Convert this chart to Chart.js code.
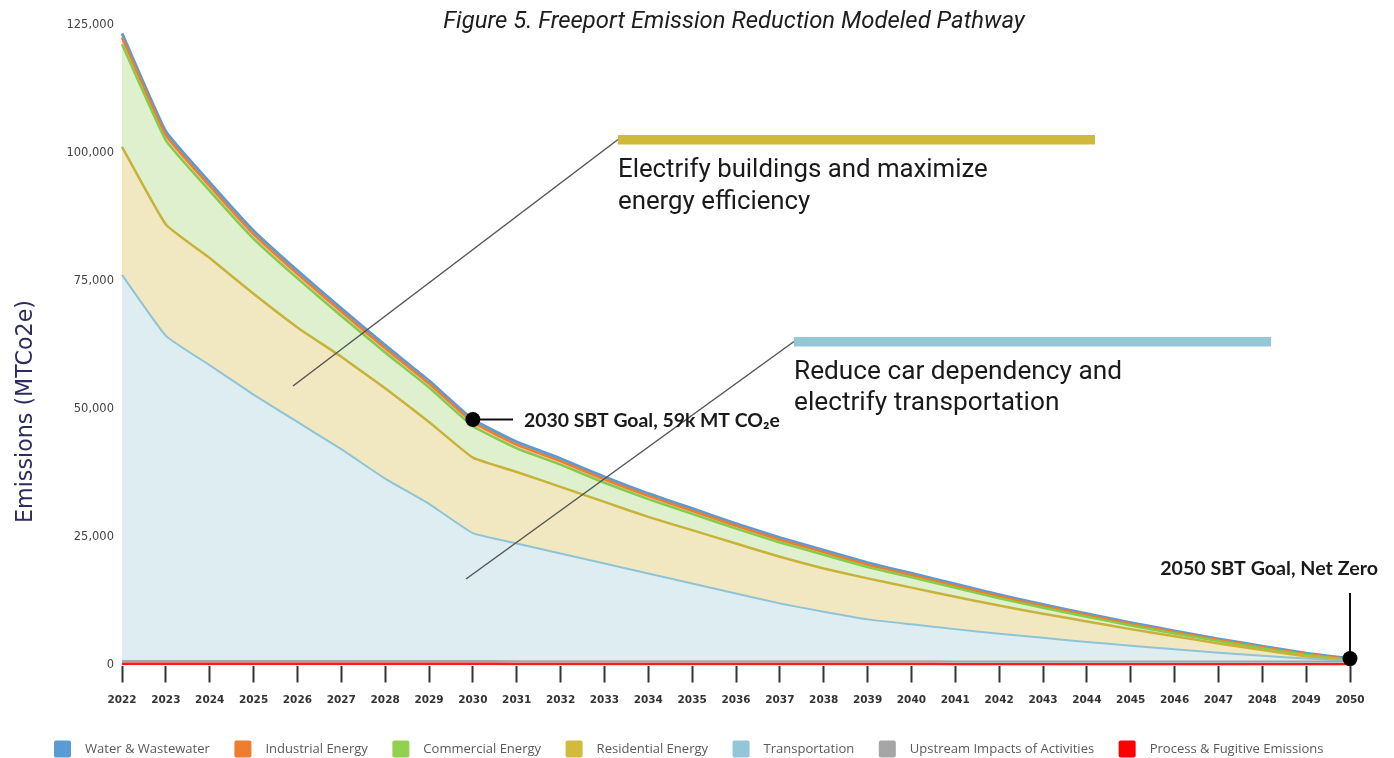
<!DOCTYPE html>
<html>
<head>
<meta charset="utf-8">
<script src="https://cdn.jsdelivr.net/npm/chart.js@4.4.1/dist/chart.umd.min.js"></script>
<style>
  html, body { margin: 0; padding: 0; background: #ffffff; }
  #wrap { position: relative; width: 1394px; height: 758px; }
</style>
</head>
<body>
<div id="wrap"><canvas id="c"></canvas></div>
<script>
// ---------- DATA (MTCO2e by sector, per year) ----------
const years = ['2022','2023','2024','2025','2026','2027','2028','2029','2030','2031','2032','2033','2034','2035','2036','2037','2038','2039','2040','2041','2042','2043','2044','2045','2046','2047','2048','2049','2050'];
const yTickValues = [0, 25000, 50000, 75000, 100000, 125000];

const processFugitive = [350,350,350,350,350,350,350,350,350,300,300,300,300,300,300,300,300,300,300,250,250,250,250,250,250,250,250,250,250];
const upstreamImpacts = [550,550,550,550,550,550,550,550,550,550,550,550,550,550,550,550,550,550,550,550,550,550,550,550,550,550,550,550,550];
const transportation  = [75330,63440,57700,51970,46640,41310,35580,30660,24920,22960,21020,19070,17120,15170,13220,11270,9640,8150,7180,6300,5400,4600,3800,3050,2350,1700,1100,550,50];
const residentialEnergy = [25000,21730,20910,19670,18440,18040,17620,15980,14750,13960,12980,12000,11030,10390,9740,9090,8450,8000,7170,6300,5500,4700,4000,3250,2550,1800,1100,450,50];
const commercialEnergy  = [20030,16430,13120,10730,9570,7970,7000,6700,6130,4610,4340,3740,3470,3190,2900,2800,2680,2200,2000,1760,1410,1160,910,710,560,460,360,260,150];
const industrialEnergy  = [1300,1000,950,920,880,850,820,790,760,720,690,660,630,600,570,540,510,480,450,420,390,360,330,300,270,240,210,180,150];
const waterWastewater   = [800,700,680,650,620,600,580,560,540,520,500,480,460,440,420,400,380,360,340,320,300,280,260,240,220,200,180,160,150];

const legendOrder = ['Water & Wastewater','Industrial Energy','Commercial Energy','Residential Energy','Transportation','Upstream Impacts of Activities','Process & Fugitive Emissions'];
const legendColors = ['#5b9bd5','#ed7d31','#92d050','#d1bb3c','#93c6d8','#a6a6a6','#ff0000'];

const titleText = 'Figure 5. Freeport Emission Reduction Modeled Pathway';
const yAxisTitle = 'Emissions (MTCo2e)';
const note1 = ['Electrify buildings and maximize', 'energy efficiency'];
const note2 = ['Reduce car dependency and', 'electrify transportation'];
const goal2030 = '2030 SBT Goal, 59k MT CO\u2082e';
const goal2050 = '2050 SBT Goal, Net Zero';
const goal2030Index = years.indexOf('2030');
const goal2050Index = years.indexOf('2050');

// ---------- helpers ----------
function fitFont(ctx, text, width, style, family) {
  ctx.font = style + ' 100px ' + family;
  const w = ctx.measureText(text).width;
  const size = 100 * width / w;
  ctx.font = style + ' ' + size.toFixed(2) + 'px ' + family;
  return size;
}

const overlay = {
  id: 'overlay',
  afterDraw(chart) {
    const ctx = chart.ctx;
    const xs = chart.scales.x, ys = chart.scales.y;
    const ds = chart.data.datasets;
    const total = i => ds.reduce((s, d) => s + d.data[i], 0);
    ctx.save();

    // Title
    ctx.fillStyle = '#1e1e1e';
    ctx.textAlign = 'center';
    ctx.textBaseline = 'alphabetic';
    fitFont(ctx, titleText, 582, 'italic 400', 'Roboto, "Open Sans", sans-serif');
    ctx.fillText(titleText, 734, 28);

    // Y axis title (rotated)
    ctx.save();
    ctx.translate(32, 411.5);
    ctx.rotate(-Math.PI / 2);
    ctx.fillStyle = '#2e2b5f';
    ctx.textAlign = 'center';
    fitFont(ctx, yAxisTitle, 223, '400', '"DejaVu Sans", sans-serif');
    ctx.fillText(yAxisTitle, 0, 0);
    ctx.restore();

    // Leader lines
    ctx.strokeStyle = '#555555';
    ctx.lineWidth = 1.5;
    ctx.beginPath(); ctx.moveTo(618, 139.5); ctx.lineTo(293, 386); ctx.stroke();
    ctx.beginPath(); ctx.moveTo(794, 341.5); ctx.lineTo(466, 579); ctx.stroke();

    // Colored bars
    ctx.fillStyle = '#cfb93a';
    ctx.fillRect(618, 135, 477, 9.5);
    ctx.fillStyle = '#93c6d6';
    ctx.fillRect(794, 337, 477, 9.5);

    // Note texts
    ctx.fillStyle = '#1a1a1a';
    ctx.textAlign = 'left';
    const fam = 'Roboto, "Open Sans", sans-serif';
    fitFont(ctx, note1[0], 370, '400', fam);
    ctx.fillText(note1[0], 618, 177);
    ctx.fillText(note1[1], 618, 208.5);
    fitFont(ctx, note2[0], 328, '400', fam);
    ctx.fillText(note2[0], 794, 378.5);
    ctx.fillText(note2[1], 794, 410);

    // 2030 goal
    const x30 = xs.getPixelForValue(goal2030Index);
    const y30 = ys.getPixelForValue(total(goal2030Index));
    ctx.strokeStyle = '#111';
    ctx.lineWidth = 2;
    ctx.beginPath(); ctx.moveTo(x30, y30); ctx.lineTo(513, y30); ctx.stroke();
    ctx.fillStyle = '#000';
    ctx.beginPath(); ctx.arc(x30, y30, 7.5, 0, Math.PI * 2); ctx.fill();
    ctx.fillStyle = '#1a1a1a';
    fitFont(ctx, goal2030, 256, 'bold', 'Lato, "Open Sans", sans-serif');
    ctx.textBaseline = 'middle';
    ctx.fillText(goal2030, 524, y30 + 1);

    // 2050 goal
    const x50 = xs.getPixelForValue(goal2050Index);
    const y50 = ys.getPixelForValue(total(goal2050Index));
    ctx.strokeStyle = '#111';
    ctx.beginPath(); ctx.moveTo(x50, 593); ctx.lineTo(x50, y50); ctx.stroke();
    ctx.fillStyle = '#000';
    ctx.beginPath(); ctx.arc(x50, y50, 7.5, 0, Math.PI * 2); ctx.fill();
    ctx.fillStyle = '#1a1a1a';
    ctx.textAlign = 'right';
    ctx.textBaseline = 'alphabetic';
    fitFont(ctx, goal2050, 218, 'bold', 'Lato, "Open Sans", sans-serif');
    ctx.fillText(goal2050, 1378, 575);

    // Legend
    ctx.textAlign = 'left';
    ctx.textBaseline = 'middle';
    fitFont(ctx, legendOrder[0], 125, '400', '"Open Sans", sans-serif');
    let lx = 54;
    legendOrder.forEach((label, i) => {
      ctx.fillStyle = legendColors[i];
      ctx.beginPath();
      if (ctx.roundRect) ctx.roundRect(lx, 740.5, 17, 17, 2); else ctx.rect(lx, 740.5, 17, 17);
      ctx.fill();
      ctx.fillStyle = '#5a5a5a';
      ctx.fillText(label, lx + 31, 749.5);
      lx += 31 + ctx.measureText(label).width + 24.5;
    });

    ctx.restore();
  }
};

const ds = (label, data, line, fillColor, width, fill) => ({
  label, data, borderColor: line, backgroundColor: fillColor, borderWidth: width,
  fill, pointRadius: 0, pointHoverRadius: 0, tension: 0.12, borderJoinStyle: 'round'
});

new Chart(document.getElementById('c'), {
  type: 'line',
  data: {
    labels: years,
    datasets: [
      ds('Process & Fugitive Emissions', processFugitive, '#ff1a1a', 'rgba(255,120,120,0.35)', 2.5, 'origin'),
      ds('Upstream Impacts of Activities', upstreamImpacts, '#a6a6a6', '#d6d6d6', 2, '-1'),
      ds('Transportation', transportation, '#8fc3d6', '#deedf2', 2, '-1'),
      ds('Residential Energy', residentialEnergy, '#c9b23a', '#f1e8c2', 2.5, '-1'),
      ds('Commercial Energy', commercialEnergy, '#87cb4b', '#dff0cf', 2.5, '-1'),
      ds('Industrial Energy', industrialEnergy, '#ed7d31', '#f4c7a6', 2.5, '-1'),
      ds('Water & Wastewater', waterWastewater, '#5b9bd5', '#bcd6ee', 3, '-1')
    ]
  },
  options: {
    responsive: true,
    maintainAspectRatio: false,
    animation: false,
    layout: { padding: { top: 25, right: 44, left: 0, bottom: 0 } },
    plugins: { legend: { display: false }, tooltip: { enabled: false }, title: { display: false } },
    scales: {
      x: {
        stacked: true,
        offset: false,
        grid: { display: true, drawOnChartArea: false, drawTicks: true, tickLength: 17, tickColor: '#333333', tickWidth: 2 },
        border: { display: false },
        ticks: { color: '#333333', font: { family: '"DejaVu Sans"', size: 10.5, weight: 'bold' }, padding: 11, maxRotation: 0, autoSkip: false },
        afterFit: s => { s.height = 92.5; }
      },
      y: {
        stacked: true,
        min: 0, max: 125000,
        grid: { display: false },
        border: { display: false },
        afterBuildTicks: s => { s.ticks = yTickValues.map(v => ({ value: v })); },
        ticks: { color: '#444444', font: { family: '"DejaVu Sans"', size: 11.5 }, padding: 0,
                 callback: v => Number(v).toLocaleString('en-US') },
        afterFit: s => { s.width = 122; }
      }
    }
  },
  plugins: [overlay]
});
</script>
</body>
</html>
